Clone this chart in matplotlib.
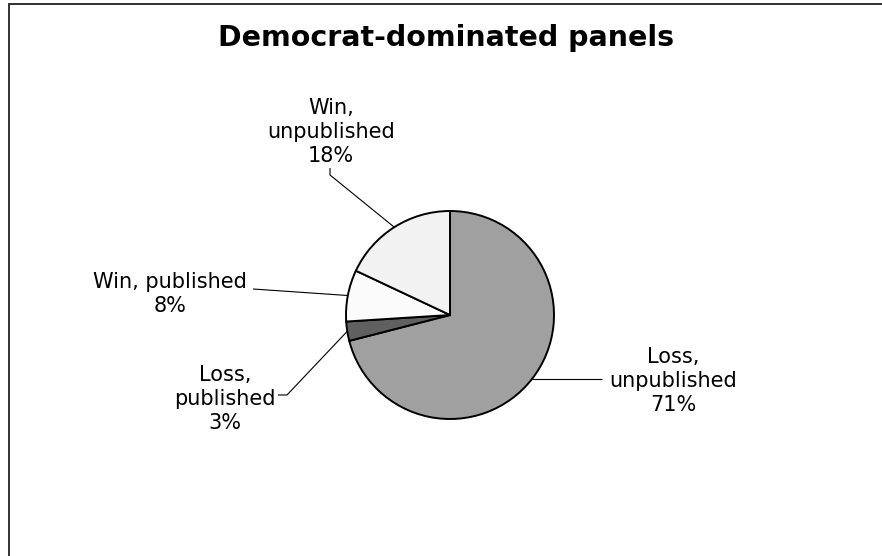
import numpy as np
import matplotlib
matplotlib.use("Agg")
import matplotlib.pyplot as plt

# slice data, clockwise from 12 o'clock
labels = ["Loss,\nunpublished", "Loss,\npublished", "Win, published", "Win,\nunpublished"]
shares = [71, 3, 8, 18]
colors = ["#A0A0A0", "#606060", "#FBFBFB", "#F2F2F2"]

W, H = 882, 556
fig = plt.figure(figsize=(W / 100, H / 100), dpi=100)
ax = fig.add_axes([0, 0, 1, 1])

cx, cy, r = 450, H - 315, 104
wedges, _ = ax.pie(shares, colors=colors, startangle=90, counterclock=False,
                   center=(cx, cy), radius=r, frame=True,
                   wedgeprops=dict(edgecolor="black", linewidth=1.4))
ax.set_xlim(0, W)
ax.set_ylim(0, H)
ax.set_aspect("equal")
ax.axis("off")

# label centre, and where the leader line meets the label
label_pos = [(673, H - 381), (225, H - 399), (170, H - 294), (331, H - 132)]
line_end = [(602, None), (278, H - 395), (253, H - 289), (330, H - 168)]
elbow = ["h", "h", None, "v"]

for w, lab, s, tp, le, kind in zip(wedges, labels, shares, label_pos, line_end, elbow):
    mid = np.deg2rad((w.theta1 + w.theta2) / 2)
    px, py = cx + r * np.cos(mid), cy + r * np.sin(mid)
    if le[1] is None:
        xs, ys = [px, le[0]], [py, py]
    elif kind == "h":
        xs, ys = [px, le[0] + 9, le[0]], [py, le[1], le[1]]
    elif kind == "v":
        xs, ys = [px, le[0], le[0]], [py, le[1] - 7, le[1]]
    else:
        xs, ys = [px, le[0]], [py, le[1]]
    ax.plot(xs, ys, color="black", lw=0.8, solid_capstyle="butt")
    ax.text(tp[0], tp[1], f"{lab}\n{s}%", ha="center", va="center",
            multialignment="center", fontsize=15, family="DejaVu Sans",
            linespacing=1.22, color="black")

ax.text(446, H - 38, "Democrat-dominated panels", ha="center", va="center",
        fontsize=20.5, fontweight="bold", family="DejaVu Sans")

# chart area border (runs off the right and bottom edges)
ax.plot([8.5, 8.5, W + 5], [-5, H - 4, H - 4], color="#222222", lw=1.3,
        solid_joinstyle="miter")

fig.savefig("out.png", dpi=100)
